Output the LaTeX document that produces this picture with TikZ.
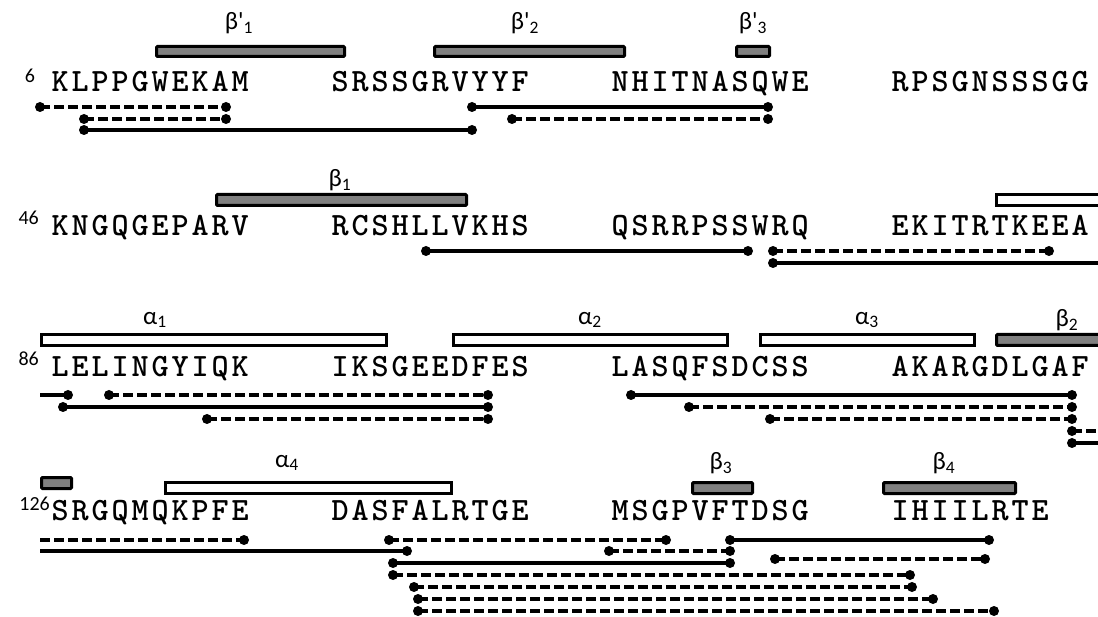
\documentclass[tikz,border=0pt]{standalone}
\usepackage{fontspec}
\newfontfamily\labfont{Carlito}[Ligatures=TeXOff]
\definecolor{barfill}{RGB}{128,128,128}
\def\spaceout#1{\ifx#1\relax\else\makebox[20pt]{#1}\expandafter\spaceout\fi}
\newcommand\mkbar[6]{\node[#1, minimum width={#4-#3-3}, minimum height={#6-#5-3}] (#2) at ({(#3+#4)/2},{(#5+#6)/2}) {};}
\tikzset{
 seq/.style={anchor=base west, inner sep=0pt, font={\fontsize{32.5}{32.5}\selectfont\ttfamily\bfseries}},
 lab/.style={inner sep=0pt, font={\fontsize{25}{25}\selectfont\labfont}},
 num/.style={inner sep=0pt, font={\fontsize{20}{20}\selectfont\labfont}},
 strand/.style={draw=black, line width=3pt, fill=barfill, inner sep=0pt, rounded corners=1pt},
 helix/.style={draw=black, line width=3pt, fill=white, inner sep=0pt},
 sol/.style={line width=3.1pt},
 dsh/.style={line width=3.1pt, dash pattern=on 9.5pt off 4.5pt},
}
\begin{document}
\begin{tikzpicture}[x=1pt,y=-1pt]
\useasboundingbox (0,0) rectangle (1098,617);
\clip (0,0) rectangle (1098,617);
\fill[white] (0,0) rectangle (1098,617);
% secondary structure bars
\mkbar{strand}{b1}{155}{346}{45}{58}
\mkbar{strand}{b2}{433}{626}{45}{58}
\mkbar{strand}{b3}{735}{771}{45}{58}
\mkbar{strand}{b4}{215}{468}{193}{207}
\mkbar{helix}{b5}{995}{1110}{193}{207}
\mkbar{helix}{b6}{40}{388}{333}{347}
\mkbar{helix}{b7}{452}{729}{333}{347}
\mkbar{helix}{b8}{759}{976}{333}{347}
\mkbar{strand}{b9}{995}{1110}{333}{347}
\mkbar{strand}{b10}{40}{73}{476}{490}
\mkbar{helix}{b11}{164}{453}{481}{495}
\mkbar{strand}{b12}{691}{754}{481}{495}
\mkbar{strand}{b13}{882}{1017}{481}{495}
% labels
\node[lab] (l1) at (239,23) {β'\textsubscript{1}};
\node[lab] (l2) at (525,23) {β'\textsubscript{2}};
\node[lab] (l3) at (753,23) {β'\textsubscript{3}};
\node[lab] (l4) at (340,180) {β\textsubscript{1}};
\node[lab] (l5) at (155,320) {α\textsubscript{1}};
\node[lab] (l6) at (590,320) {α\textsubscript{2}};
\node[lab] (l7) at (867,320) {α\textsubscript{3}};
\node[lab] (l8) at (1067,320) {β\textsubscript{2}};
\node[lab] (l9) at (287,463) {α\textsubscript{4}};
\node[lab] (l10) at (721,463) {β\textsubscript{3}};
\node[lab] (l11) at (944,463) {β\textsubscript{4}};
% residue numbers
\node[num] (n1) at (30,76) {6};
\node[num, anchor=east] (n2) at (39,218) {46};
\node[num, anchor=east] (n3) at (39,359) {86};
\node[num, anchor=east] (n4) at (50,504) {126};
% sequences
\node[seq] (s11) at (50,92) {\spaceout KLPPGWEKAM\relax};
\node[seq] (s12) at (330,92) {\spaceout SRSSGRVYYF\relax};
\node[seq] (s13) at (610,92) {\spaceout NHITNASQWE\relax};
\node[seq] (s14) at (890,92) {\spaceout RPSGNSSSGG\relax};
\node[seq] (s21) at (50,236) {\spaceout KNGQGEPARV\relax};
\node[seq] (s22) at (330,236) {\spaceout RCSHLLVKHS\relax};
\node[seq] (s23) at (610,236) {\spaceout QSRRPSSWRQ\relax};
\node[seq] (s24) at (890,236) {\spaceout EKITRTKEEA\relax};
\node[seq] (s31) at (50,377) {\spaceout LELINGYIQK\relax};
\node[seq] (s32) at (330,377) {\spaceout IKSGEEDFES\relax};
\node[seq] (s33) at (610,377) {\spaceout LASQFSDCSS\relax};
\node[seq] (s34) at (890,377) {\spaceout AKARGDLGAF\relax};
\node[seq] (s41) at (50,520) {\spaceout SRGQMQKPFE\relax};
\node[seq] (s42) at (330,520) {\spaceout DASFALRTGE\relax};
\node[seq] (s43) at (610,520) {\spaceout MSGPVFTDSG\relax};
\node[seq] (s44) at (890,520) {\spaceout IHIILRTE\relax};
% links with dots at both ends
\foreach \n/\xa/\xb/\yy/\st in {
 1/40/226/107/dsh, 2/84/226/119/dsh, 3/84/472/130/sol, 4/472/768/107/sol, 5/512/768/119/dsh,
 6/426/748/251/sol, 7/773/1049/251/dsh,
 10/109/488/395/dsh, 11/63/488/407/sol, 12/207/488/419/dsh,
 13/631/1072/395/sol, 14/689/1072/407/dsh, 15/770/1072/419/dsh,
 20/389/666/540/dsh, 21/730/989/540/sol, 22/609/730/551/dsh, 23/775/985/559/dsh,
 24/393/730/563/sol, 25/393/910/575/dsh, 26/414/912/587/dsh, 27/418/933/599/dsh, 28/418/994/611/dsh}
{
 \coordinate (L\n-a) at (\xa,\yy);
 \coordinate (L\n-b) at (\xb,\yy);
 \draw[\st] (L\n-a) -- (L\n-b);
 \fill (L\n-a) circle (5pt) (L\n-b) circle (5pt);
}
% links running off the edges (dot at one end only)
\foreach \n/\xa/\xb/\yy/\st/\d in {
 8/773/1110/263/sol/a, 16/1072/1110/431/dsh/a, 17/1072/1110/443/sol/a,
 9/40/68/395/sol/b, 18/40/244/540/dsh/b, 19/40/407/551/sol/b}
{
 \coordinate (L\n-a) at (\xa,\yy);
 \coordinate (L\n-b) at (\xb,\yy);
 \draw[\st] (L\n-a) -- (L\n-b);
 \fill (L\n-\d) circle (5pt);
}
\end{tikzpicture}
\end{document}
